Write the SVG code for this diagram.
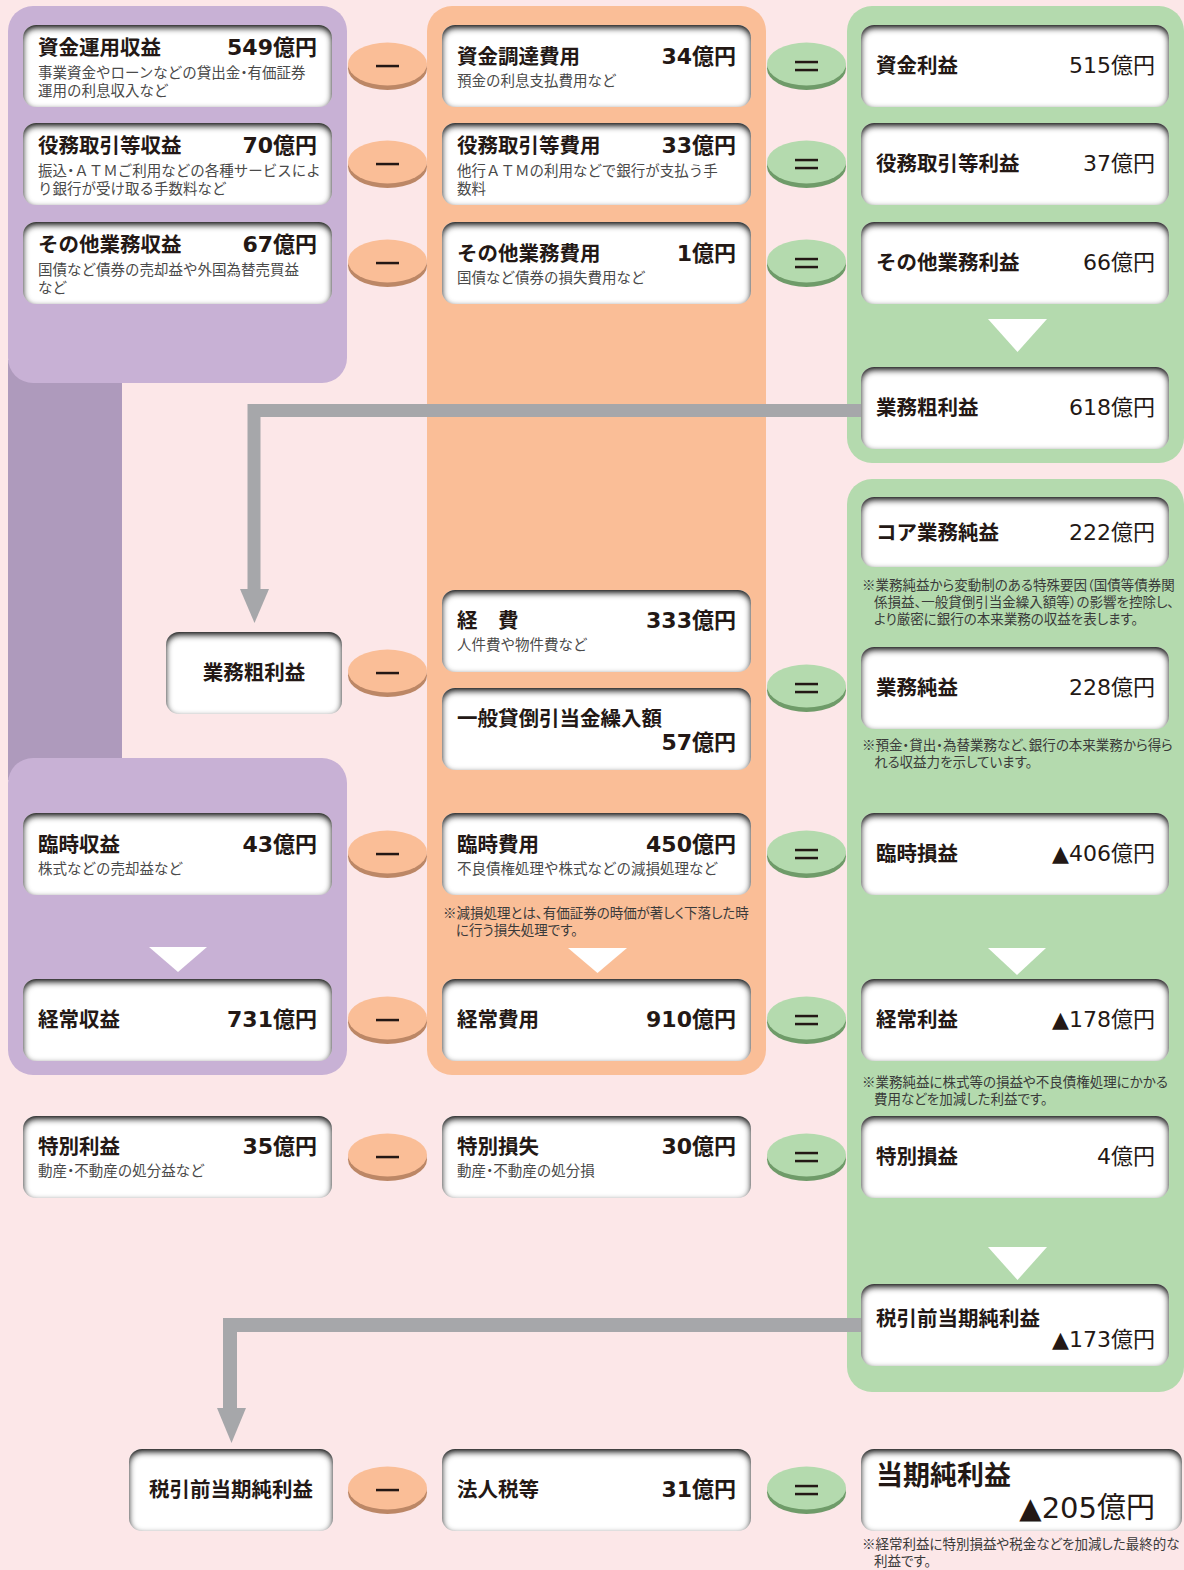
<svg xmlns="http://www.w3.org/2000/svg" xmlns:xlink="http://www.w3.org/1999/xlink" width="1184" height="1570" viewBox="0 0 1184 1570">
  <style>
    .t{font-family:"Noto Sans CJK JP","Noto Sans CJK SC",sans-serif;font-weight:700;font-size:20.5px;fill:#231815}
    .tc{text-anchor:middle}
    .v{font-family:"DejaVu Sans","Noto Sans CJK JP",sans-serif;font-weight:700;font-size:22px;fill:#231815;text-anchor:end}
    .vr{font-weight:400}
    .s{font-family:"Noto Sans CJK JP","Noto Sans CJK SC",sans-serif;font-size:14.5px;fill:#4a4a4a}
    .dot{font-feature-settings:"palt"}
    .n{font-family:"Noto Sans CJK JP","Noto Sans CJK SC",sans-serif;font-size:13.5px;fill:#3a3a3a;font-feature-settings:"palt"}
    .card{fill:#fff;filter:url(#inset)}
    .sign{fill:#231815}
  </style>
  <defs>
    <filter id="inset" x="-10%" y="-25%" width="120%" height="150%">
      <feFlood flood-color="#101010" result="f"/>
      <feComposite in="f" in2="SourceAlpha" operator="out" result="outside"/>
      <feOffset in="outside" dy="2.5" result="o"/>
      <feGaussianBlur in="o" stdDeviation="3" result="b"/>
      <feComposite in="b" in2="SourceAlpha" operator="in" result="ish"/>
      <feMerge><feMergeNode in="SourceGraphic"/><feMergeNode in="ish"/><feMergeNode in="ish"/></feMerge>
    </filter>
    <!-- operator discs, centred on 0,0 -->
    <g id="opMinus">
      <ellipse cx="0" cy="2.5" rx="39.5" ry="21.5" fill="#BC8766"/>
      <ellipse cx="0" cy="-2" rx="39.5" ry="21.5" fill="#FABE97"/>
      <rect x="-11.5" y="-1.2" width="23" height="2.5" class="sign"/>
    </g>
    <g id="opEq">
      <ellipse cx="0" cy="2.5" rx="39.5" ry="21.5" fill="#6F9B69"/>
      <ellipse cx="0" cy="-2" rx="39.5" ry="21.5" fill="#B4DAAE"/>
      <rect x="-11.5" y="-5.2" width="23" height="2.5" class="sign"/>
      <rect x="-11.5" y="2.8" width="23" height="2.5" class="sign"/>
    </g>
  </defs>

  <!-- background and column panels -->
  <rect width="1184" height="1570" fill="#FCE7E8"/>
  <g id="panels">
    <rect x="8" y="360" width="114" height="420" fill="#AE9ABC"/>
    <rect x="8" y="6" width="339" height="377" rx="25" fill="#C8B1D5"/>
    <rect x="8" y="758" width="339" height="317" rx="25" fill="#C8B1D5"/>
    <rect x="427" y="6" width="339" height="1069" rx="25" fill="#FABE97"/>
    <rect x="847" y="6" width="337" height="457" rx="25" fill="#B4DAAE"/>
    <rect x="847" y="479" width="337" height="913" rx="25" fill="#B4DAAE"/>
    <polygon points="988,319 1047,319 1017.5,352" fill="#fff"/>
    <polygon points="988,948 1046,948 1017,975" fill="#fff"/>
    <polygon points="988,1247 1047,1247 1017.5,1280" fill="#fff"/>
    <polygon points="568,948 627,948 597.5,973" fill="#fff"/>
    <polygon points="149,947 207,947 178,972" fill="#fff"/>
  </g>

  <!-- flow connectors -->
  <g id="connectors" fill="none" stroke="#A6A7AA" stroke-width="13">
    <path d="M861,410.5 H254 V592"/>
    <polygon points="240,589 269,589 254.5,623" fill="#A6A7AA" stroke="none"/>
    <path d="M861,1325 H230 V1411" stroke-width="14"/>
    <polygon points="217,1408 246,1408 231.5,1443" fill="#A6A7AA" stroke="none"/>
  </g>

  <!-- revenue column -->
  <g id="n-shikin-unyo">
    <rect class="card" x="23" y="25" width="309" height="82" rx="13"/>
    <text class="t" x="38" y="55">資金運用収益</text>
    <text class="v" x="317" y="55">549億円</text>
    <text class="s" x="38" y="78">事業資金やローンなどの貸出金<tspan class="dot">・</tspan>有価証券</text>
    <text class="s" x="38" y="96">運用の利息収入など</text>
  </g>
  <g id="n-ekimu-shueki">
    <rect class="card" x="23" y="123" width="309" height="82" rx="13"/>
    <text class="t" x="38" y="153">役務取引等収益</text>
    <text class="v" x="317" y="153">70億円</text>
    <text class="s" x="38" y="176">振込<tspan class="dot">・</tspan>ＡＴＭご利用などの各種サービスによ</text>
    <text class="s" x="38" y="194">り銀行が受け取る手数料など</text>
  </g>
  <g id="n-sonota-shueki">
    <rect class="card" x="23" y="222" width="309" height="82" rx="13"/>
    <text class="t" x="38" y="252">その他業務収益</text>
    <text class="v" x="317" y="252">67億円</text>
    <text class="s" x="38" y="275">国債など債券の売却益や外国為替売買益</text>
    <text class="s" x="38" y="293">など</text>
  </g>
  <g id="n-gyomu-ararieki-in">
    <rect class="card" x="166" y="632" width="176" height="82" rx="13"/>
    <text class="t tc" x="254" y="680">業務粗利益</text>
  </g>
  <g id="n-rinji-shueki">
    <rect class="card" x="23" y="813" width="309" height="82" rx="13"/>
    <text class="t" x="38" y="852">臨時収益</text>
    <text class="v" x="317" y="852">43億円</text>
    <text class="s" x="38" y="874">株式などの売却益など</text>
  </g>
  <g id="n-keijo-shueki">
    <rect class="card" x="23" y="979" width="309" height="82" rx="13"/>
    <text class="t" x="38" y="1027">経常収益</text>
    <text class="v" x="317" y="1027">731億円</text>
  </g>
  <g id="n-tokubetsu-rieki">
    <rect class="card" x="23" y="1116" width="309" height="82" rx="13"/>
    <text class="t" x="38" y="1154">特別利益</text>
    <text class="v" x="317" y="1154">35億円</text>
    <text class="s" x="38" y="1176">動産<tspan class="dot">・</tspan>不動産の処分益など</text>
  </g>
  <g id="n-zeibikimae-in">
    <rect class="card" x="129" y="1449" width="204" height="82" rx="13"/>
    <text class="t tc" x="231" y="1497">税引前当期純利益</text>
  </g>

  <!-- cost column -->
  <g id="n-shikin-chotatsu">
    <rect class="card" x="442" y="25" width="309" height="82" rx="13"/>
    <text class="t" x="457" y="64">資金調達費用</text>
    <text class="v" x="736" y="64">34億円</text>
    <text class="s" x="457" y="86">預金の利息支払費用など</text>
  </g>
  <g id="n-ekimu-hiyo">
    <rect class="card" x="442" y="123" width="309" height="82" rx="13"/>
    <text class="t" x="457" y="153">役務取引等費用</text>
    <text class="v" x="736" y="153">33億円</text>
    <text class="s" x="457" y="176">他行ＡＴＭの利用などで銀行が支払う手</text>
    <text class="s" x="457" y="194">数料</text>
  </g>
  <g id="n-sonota-hiyo">
    <rect class="card" x="442" y="222" width="309" height="82" rx="13"/>
    <text class="t" x="457" y="261">その他業務費用</text>
    <text class="v" x="736" y="261">1億円</text>
    <text class="s" x="457" y="283">国債など債券の損失費用など</text>
  </g>
  <g id="n-keihi">
    <rect class="card" x="442" y="590" width="309" height="82" rx="13"/>
    <text class="t" x="457" y="628">経　費</text>
    <text class="v" x="736" y="628">333億円</text>
    <text class="s" x="457" y="650">人件費や物件費など</text>
  </g>
  <g id="n-ippan-kashidaore">
    <rect class="card" x="442" y="688" width="309" height="82" rx="13"/>
    <text class="t" x="457" y="726">一般貸倒引当金繰入額</text>
    <text class="v" x="736" y="750">57億円</text>
  </g>
  <g id="n-rinji-hiyo">
    <rect class="card" x="442" y="813" width="309" height="82" rx="13"/>
    <text class="t" x="457" y="852">臨時費用</text>
    <text class="v" x="736" y="852">450億円</text>
    <text class="s" x="457" y="874">不良債権処理や株式などの減損処理など</text>
  </g>
  <g id="note-genson">
    <text class="n" x="443" y="918">※減損処理とは、有価証券の時価が著しく下落した時</text>
    <text class="n" x="456" y="935">に行う損失処理です。</text>
  </g>
  <g id="n-keijo-hiyo">
    <rect class="card" x="442" y="979" width="309" height="82" rx="13"/>
    <text class="t" x="457" y="1027">経常費用</text>
    <text class="v" x="736" y="1027">910億円</text>
  </g>
  <g id="n-tokubetsu-sonshitsu">
    <rect class="card" x="442" y="1116" width="309" height="82" rx="13"/>
    <text class="t" x="457" y="1154">特別損失</text>
    <text class="v" x="736" y="1154">30億円</text>
    <text class="s" x="457" y="1176">動産<tspan class="dot">・</tspan>不動産の処分損</text>
  </g>
  <g id="n-hojinzei">
    <rect class="card" x="442" y="1449" width="309" height="82" rx="13"/>
    <text class="t" x="457" y="1497">法人税等</text>
    <text class="v" x="736" y="1497">31億円</text>
  </g>

  <!-- profit column -->
  <g id="n-shikin-rieki">
    <rect class="card" x="861" y="25" width="308" height="82" rx="13"/>
    <text class="t" x="876" y="73">資金利益</text>
    <text class="v vr" x="1155" y="73">515億円</text>
  </g>
  <g id="n-ekimu-rieki">
    <rect class="card" x="861" y="123" width="308" height="82" rx="13"/>
    <text class="t" x="876" y="171">役務取引等利益</text>
    <text class="v vr" x="1155" y="171">37億円</text>
  </g>
  <g id="n-sonota-rieki">
    <rect class="card" x="861" y="222" width="308" height="82" rx="13"/>
    <text class="t" x="876" y="270">その他業務利益</text>
    <text class="v vr" x="1155" y="270">66億円</text>
  </g>
  <g id="n-gyomu-ararieki">
    <rect class="card" x="861" y="367" width="308" height="82" rx="13"/>
    <text class="t" x="876" y="415">業務粗利益</text>
    <text class="v vr" x="1155" y="415">618億円</text>
  </g>
  <g id="n-core-gyomu-jun">
    <rect class="card" x="861" y="497" width="308" height="70" rx="13"/>
    <text class="t" x="876" y="540">コア業務純益</text>
    <text class="v vr" x="1155" y="540">222億円</text>
  </g>
  <g id="note-core">
    <text class="n" x="862" y="590">※業務純益から変動制のある特殊要因（国債等債券関</text>
    <text class="n" x="874" y="607">係損益、一般貸倒引当金繰入額等）の影響を控除し、</text>
    <text class="n" x="874" y="624">より厳密に銀行の本来業務の収益を表します。</text>
  </g>
  <g id="n-gyomu-jun">
    <rect class="card" x="861" y="647" width="308" height="82" rx="13"/>
    <text class="t" x="876" y="695">業務純益</text>
    <text class="v vr" x="1155" y="695">228億円</text>
  </g>
  <g id="note-gyomu-jun">
    <text class="n" x="862" y="750">※預金・貸出・為替業務など、銀行の本来業務から得ら</text>
    <text class="n" x="874" y="767">れる収益力を示しています。</text>
  </g>
  <g id="n-rinji-soneki">
    <rect class="card" x="861" y="813" width="308" height="82" rx="13"/>
    <text class="t" x="876" y="861">臨時損益</text>
    <text class="v vr" x="1155" y="861">▲406億円</text>
  </g>
  <g id="n-keijo-rieki">
    <rect class="card" x="861" y="979" width="308" height="82" rx="13"/>
    <text class="t" x="876" y="1027">経常利益</text>
    <text class="v vr" x="1155" y="1027">▲178億円</text>
  </g>
  <g id="note-keijo">
    <text class="n" x="862" y="1087">※業務純益に株式等の損益や不良債権処理にかかる</text>
    <text class="n" x="874" y="1104">費用などを加減した利益です。</text>
  </g>
  <g id="n-tokubetsu-soneki">
    <rect class="card" x="861" y="1116" width="308" height="82" rx="13"/>
    <text class="t" x="876" y="1164">特別損益</text>
    <text class="v vr" x="1155" y="1164">4億円</text>
  </g>
  <g id="n-zeibikimae">
    <rect class="card" x="861" y="1284" width="308" height="82" rx="13"/>
    <text class="t" x="876" y="1326">税引前当期純利益</text>
    <text class="v vr" x="1155" y="1347">▲173億円</text>
  </g>
  <g id="n-toki-jun">
    <rect class="card" x="861" y="1449" width="321" height="82" rx="13"/>
    <text class="t" x="876" y="1485" style="font-size:27px">当期純利益</text>
    <text class="v vr" x="1155" y="1518" style="font-size:29px">▲205億円</text>
  </g>
  <g id="note-toki-jun">
    <text class="n" x="862" y="1549">※経常利益に特別損益や税金などを加減した最終的な</text>
    <text class="n" x="874" y="1566">利益です。</text>
  </g>

  <!-- operators -->
  <g id="ops-minus">
    <use xlink:href="#opMinus" x="387.5" y="66"/>
    <use xlink:href="#opMinus" x="387.5" y="164"/>
    <use xlink:href="#opMinus" x="387.5" y="263"/>
    <use xlink:href="#opMinus" x="387.5" y="673"/>
    <use xlink:href="#opMinus" x="387.5" y="854"/>
    <use xlink:href="#opMinus" x="387.5" y="1020"/>
    <use xlink:href="#opMinus" x="387.5" y="1157"/>
    <use xlink:href="#opMinus" x="387.5" y="1490"/>
  </g>
  <g id="ops-equal">
    <use xlink:href="#opEq" x="806.5" y="66"/>
    <use xlink:href="#opEq" x="806.5" y="164"/>
    <use xlink:href="#opEq" x="806.5" y="263"/>
    <use xlink:href="#opEq" x="806.5" y="688"/>
    <use xlink:href="#opEq" x="806.5" y="854"/>
    <use xlink:href="#opEq" x="806.5" y="1020"/>
    <use xlink:href="#opEq" x="806.5" y="1157"/>
    <use xlink:href="#opEq" x="806.5" y="1490"/>
  </g>
</svg>
